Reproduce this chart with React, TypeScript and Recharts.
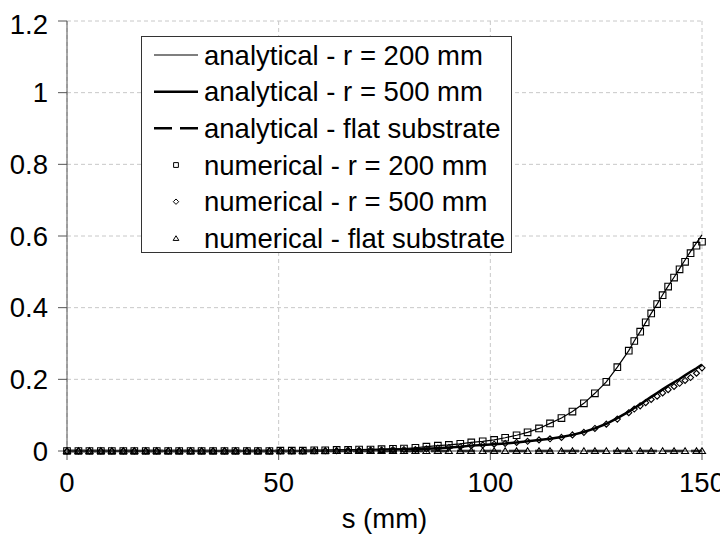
import React from 'react';
import { LineChart, Line, XAxis, YAxis, CartesianGrid, Legend } from 'recharts';

const FONT = '"Liberation Sans", Arial, sans-serif';
const FS = 27.5;

const sValues = [
  0, 2.7, 5.3, 8.0, 10.6, 13.3, 15.9, 18.6, 21.2, 23.9,
  26.5, 29.2, 31.8, 34.5, 37.2, 39.8, 42.5, 45.1, 47.8, 50.4,
  53.1, 55.7, 58.4, 61.0, 63.7, 66.4, 69.0, 71.7, 74.3, 77.0,
  79.6, 82.3, 84.9, 87.6, 90.2, 92.9, 95.5, 98.2, 100.9, 103.5,
  106.2, 108.8, 111.5, 114.1, 116.8, 119.4, 122.1, 124.7, 127.4, 130.0,
  132.7, 134.0, 135.4, 136.7, 138.0, 139.4, 140.7, 142.0, 143.4, 144.7,
  146.0, 147.3, 148.7, 150.0,
];

const analytical200 = [
  0, 0, 0, 0, 0, 0, 0, 0, 0, 0,
  0, 0, 0, 0, 0, 0, 0, 0, 0, 0.001,
  0.001, 0.001, 0.002, 0.002, 0.003, 0.003, 0.004, 0.004, 0.005, 0.006,
  0.007, 0.009, 0.012, 0.015, 0.017, 0.020, 0.024, 0.027, 0.031, 0.037,
  0.044, 0.052, 0.063, 0.077, 0.092, 0.110, 0.133, 0.161, 0.193, 0.234,
  0.280, 0.307, 0.333, 0.359, 0.384, 0.410, 0.436, 0.460, 0.485, 0.509,
  0.533, 0.557, 0.581, 0.603,
];

const analytical500 = [
  0, 0, 0, 0, 0, 0, 0, 0, 0, 0,
  0, 0, 0, 0, 0, 0, 0, 0, 0, 0,
  0, 0, 0.001, 0.001, 0.001, 0.002, 0.002, 0.003, 0.003, 0.004,
  0.004, 0.005, 0.006, 0.008, 0.010, 0.012, 0.015, 0.017, 0.019, 0.021,
  0.024, 0.027, 0.031, 0.034, 0.039, 0.045, 0.053, 0.063, 0.076, 0.092,
  0.110, 0.120, 0.130, 0.141, 0.151, 0.162, 0.172, 0.182, 0.192, 0.201,
  0.211, 0.221, 0.231, 0.241,
];

const analyticalFlat = [
  0, 0, 0, 0, 0, 0, 0, 0, 0, 0,
  0, 0, 0, 0, 0, 0, 0, 0, 0, 0,
  0, 0, 0, 0, 0, 0, 0, 0, 0, 0,
  0, 0, 0, 0, 0, 0, 0, 0, 0, 0,
  0, 0, 0, 0, 0, 0, 0, 0, 0, 0,
  0, 0, 0, 0, 0, 0, 0, 0, 0, 0,
  0, 0, 0, 0,
];

const numerical200 = [
  0, 0, 0, 0, 0, 0, 0, 0, 0, 0,
  0, 0, 0, 0, 0, 0, 0, 0, 0, 0.001,
  0.001, 0.001, 0.002, 0.002, 0.003, 0.003, 0.004, 0.004, 0.005, 0.006,
  0.007, 0.009, 0.012, 0.015, 0.017, 0.020, 0.024, 0.027, 0.031, 0.037,
  0.044, 0.052, 0.063, 0.077, 0.092, 0.110, 0.133, 0.161, 0.193, 0.234,
  0.280, 0.307, 0.333, 0.359, 0.384, 0.410, 0.435, 0.459, 0.484, 0.507,
  0.528, 0.552, 0.573, 0.584,
];

const numerical500 = [
  0, 0, 0, 0, 0, 0, 0, 0, 0, 0,
  0, 0, 0, 0, 0, 0, 0, 0, 0, 0,
  0, 0, 0.001, 0.001, 0.001, 0.002, 0.002, 0.003, 0.003, 0.004,
  0.004, 0.004, 0.006, 0.008, 0.010, 0.012, 0.015, 0.017, 0.019, 0.021,
  0.024, 0.027, 0.031, 0.034, 0.038, 0.045, 0.052, 0.063, 0.075, 0.089,
  0.107, 0.117, 0.126, 0.135, 0.144, 0.153, 0.162, 0.171, 0.180, 0.189,
  0.197, 0.205, 0.217, 0.232,
];

const numericalFlat: (number | null)[] = [
  0, 0, 0, 0, 0, 0, 0, 0, 0, 0,
  0, 0, 0, 0, 0, 0, 0, 0, 0, 0,
  0, 0, 0, 0, 0, 0, 0, 0, 0, 0,
  0, 0, 0, 0, 0, 0, 0, 0, 0, 0,
  0, 0, 0, 0, 0, 0, 0, 0, 0, 0,
  0, null, 0, null, 0, null, 0, null, 0, null,
  0, null, 0, 0,
];

const xTicks = [0, 50, 100, 150];
const yTicks = [0, 0.2, 0.4, 0.6, 0.8, 1, 1.2];
const seriesNames = [
  'analytical - r = 200 mm',
  'analytical - r = 500 mm',
  'analytical - flat substrate',
  'numerical - r = 200 mm',
  'numerical - r = 500 mm',
  'numerical - flat substrate',
];
const xLabel = 's (mm)';

const data = sValues.map((s, i) => ({
  s,
  a200: analytical200[i],
  a500: analytical500[i],
  aflat: analyticalFlat[i],
  n200: numerical200[i],
  n500: numerical500[i],
  nflat: numericalFlat[i],
}));

const squarePath = (cx: number, cy: number, r: number) =>
  `M${cx - r},${cy - r}H${cx + r}V${cy + r}H${cx - r}Z`;
const diamondPath = (cx: number, cy: number, r: number) =>
  `M${cx},${cy - r}L${cx + r},${cy}L${cx},${cy + r}L${cx - r},${cy}Z`;
const trianglePath = (cx: number, cy: number, r: number) =>
  `M${cx},${cy - r}L${cx + r * 1.1},${cy + r * 0.8}L${cx - r * 1.1},${cy + r * 0.8}Z`;

const makeDot = (kind: 'sq' | 'di' | 'tr', r: number) => (props: any) => {
  const { cx, cy, value, index } = props;
  const key = `${kind}-${index}`;
  if (cx == null || cy == null || value == null || Number.isNaN(cy)) return <g key={key} />;
  const d = kind === 'sq' ? squarePath(cx, cy, r) : kind === 'di' ? diamondPath(cx, cy, r) : trianglePath(cx, cy, r);
  return <path key={key} d={d} fill="none" stroke="#000" strokeWidth={1.1} />;
};

const LegendBox = () => {
  const rowH = 36.67;
  const top = 19;
  return (
    <svg width={372} height={218} style={{ display: 'block', overflow: 'visible' }}>
      <rect x={0.5} y={0.5} width={370} height={216} fill="#fff" stroke="#333" strokeWidth={1} />
      {seriesNames.map((name, i) => {
        const cy = top + i * rowH;
        let sym: React.ReactNode = null;
        if (i === 0) sym = <line x1={13} x2={57} y1={cy} y2={cy} stroke="#000" strokeWidth={1.2} />;
        else if (i === 1) sym = <line x1={13} x2={57} y1={cy} y2={cy} stroke="#000" strokeWidth={2.5} />;
        else if (i === 2) sym = <line x1={13} x2={57} y1={cy} y2={cy} stroke="#000" strokeWidth={2.5} strokeDasharray="18 8" />;
        else if (i === 3) sym = <path d={squarePath(35, cy, 2.4)} fill="none" stroke="#000" strokeWidth={1} />;
        else if (i === 4) sym = <path d={diamondPath(35, cy, 2.7)} fill="none" stroke="#000" strokeWidth={1} />;
        else sym = <path d={trianglePath(35, cy, 2.6)} fill="none" stroke="#000" strokeWidth={1} />;
        return (
          <g key={name}>
            {sym}
            <text x={63} y={cy} dominantBaseline="central" fontFamily={FONT} fontSize={FS} fill="#000">
              {name}
            </text>
          </g>
        );
      })}
    </svg>
  );
};

const tickStyle = { fontFamily: FONT, fontSize: FS, fill: '#000' };

export default function App() {
  return (
    <div style={{ width: 720, height: 529, overflow: 'hidden', fontFamily: FONT }}>
      <style>{'html,body{overflow:hidden;}'}</style>
      <LineChart width={720} height={529} data={data} margin={{ top: 13, right: 26, left: 0, bottom: 0 }}>
        <CartesianGrid stroke="#c8c8c8" strokeDasharray="4 3" />
        <XAxis
          dataKey="s"
          type="number"
          domain={[0, 150]}
          ticks={xTicks}
          tick={tickStyle}
          tickSize={9}
          tickMargin={12}
          height={86}
          stroke="#555"
          label={{ value: xLabel, position: 'insideBottom', offset: 9, style: { fontFamily: FONT, fontSize: FS, fill: '#000' } }}
        />
        <YAxis
          type="number"
          domain={[0, 1.2]}
          ticks={yTicks}
          tick={tickStyle}
          tickSize={9}
          tickMargin={10}
          width={59}
          stroke="#555"
        />
        <Line dataKey="aflat" stroke="#000" strokeWidth={2.5} strokeDasharray="18 8" dot={false} activeDot={false} isAnimationActive={false} />
        <Line dataKey="a200" stroke="#000" strokeWidth={1.2} dot={false} activeDot={false} isAnimationActive={false} />
        <Line dataKey="a500" stroke="#000" strokeWidth={2.5} dot={false} activeDot={false} isAnimationActive={false} />
        <Line dataKey="n200" stroke="none" dot={makeDot('sq', 3.3)} activeDot={false} isAnimationActive={false} />
        <Line dataKey="n500" stroke="none" dot={makeDot('di', 3)} activeDot={false} isAnimationActive={false} />
        <Line dataKey="nflat" stroke="none" dot={makeDot('tr', 3.2)} activeDot={false} isAnimationActive={false} />
        <Legend
          layout="vertical"
          align="center"
          verticalAlign="middle"
          wrapperStyle={{ left: 133, top: 28, width: 372, height: 218 }}
          content={() => <LegendBox />}
        />
      </LineChart>
    </div>
  );
}
